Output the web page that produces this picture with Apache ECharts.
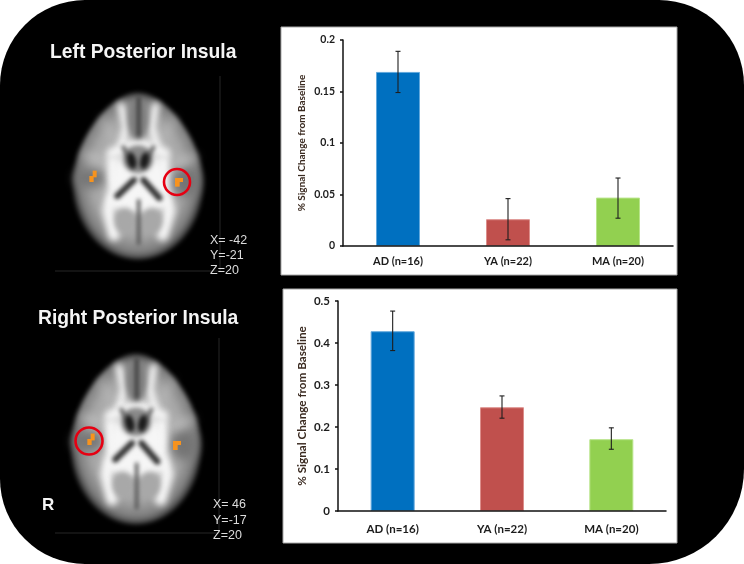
<!DOCTYPE html>
<html>
<head>
<meta charset="utf-8">
<style>
  html, body { margin: 0; padding: 0; background: #fff; }
  #main { width: 744px; height: 564px; }
</style>
<script src="https://cdn.jsdelivr.net/npm/echarts@6/dist/echarts.min.js"></script>
</head>
<body>
<div id="main"></div>
<script>
const categories = ['AD (n=16)', 'YA (n=22)', 'MA (n=20)'];
const barColors = ['#0070c0', '#c0504d', '#92d050'];
const barBorders = ['#62a8dc', '#dc8e8b', '#b8e48a'];

const leftValues = [0.169, 0.026, 0.047];
const leftLow = [0.149, 0.006, 0.027];
const leftHigh = [0.189, 0.046, 0.066];
const leftTicks = { min: 0, max: 0.2, interval: 0.05 };

const rightValues = [0.428, 0.247, 0.171];
const rightLow = [0.382, 0.221, 0.147];
const rightHigh = [0.476, 0.274, 0.198];
const rightTicks = { min: 0, max: 0.5, interval: 0.1 };

const chart = echarts.init(document.getElementById('main'), null, { renderer: 'canvas' });

// the brain slice is a picture in the original, so paint it once and reuse it
function paintBrain() {
  const c = document.createElement('canvas');
  c.width = 300;
  c.height = 360;
  const g = c.getContext('2d');
  g.setTransform(2 / 3, 0, 0, 2 / 3, 150 - 294 * 2 / 3, 180 - 318 * 2 / 3);

  function oval(x, y, rx, ry, col, rot) {
    g.fillStyle = col;
    g.beginPath();
    g.ellipse(x, y, rx, ry, rot || 0, 0, Math.PI * 2);
    g.fill();
  }
  function stroke(pts, w, col) {
    g.strokeStyle = col;
    g.lineWidth = w;
    g.lineCap = 'round';
    g.lineJoin = 'round';
    g.beginPath();
    pts.forEach(function (p, i) { i ? g.lineTo(p[0], p[1]) : g.moveTo(p[0], p[1]); });
    g.stroke();
  }

  // egg outline, narrower at the frontal end, dark rim all round
  g.filter = 'blur(5px)';
  g.beginPath();
  g.moveTo(294, 68);
  g.bezierCurveTo(205, 68, 98, 225, 98, 335);
  g.bezierCurveTo(98, 470, 190, 568, 294, 568);
  g.bezierCurveTo(398, 568, 490, 470, 490, 335);
  g.bezierCurveTo(490, 225, 383, 68, 294, 68);
  g.save();
  g.translate(294, 318);
  g.scale(0.78, 1);
  const rad = g.createRadialGradient(0, 0, 60, 0, 0, 255);
  rad.addColorStop(0, '#c4c4c4');
  rad.addColorStop(0.62, '#a6a6a6');
  rad.addColorStop(0.86, '#7e7e7e');
  rad.addColorStop(1, '#343434');
  g.fillStyle = rad;
  g.fill();
  g.restore();

  // insular grey
  g.filter = 'blur(10px)';
  oval(150, 325, 48, 30, '#767676');
  oval(438, 335, 40, 46, '#747474');
  stroke([[135, 255], [190, 272]], 14, '#c8c8c8');
  stroke([[462, 262], [405, 282]], 14, '#c8c8c8');
  stroke([[190, 150], [225, 215]], 12, '#bdbdbd');
  stroke([[400, 150], [365, 215]], 12, '#bdbdbd');

  // white matter
  g.filter = 'blur(7px)';
  const white = '#f6f6f6';
  stroke([[243, 108], [258, 170], [245, 225]], 22, white);
  stroke([[347, 108], [335, 170], [350, 225]], 22, white);
  stroke([[215, 250], [295, 218], [375, 250]], 32, white);
  stroke([[218, 275], [224, 350], [205, 420], [222, 495]], 36, white);
  stroke([[370, 275], [366, 350], [388, 420], [368, 495]], 36, white);
  oval(295, 325, 80, 88, white);
  oval(295, 395, 92, 34, white);

  // frontal fissure and posterior lobes
  g.filter = 'blur(6px)';
  oval(294, 150, 32, 60, '#808080');
  oval(255, 452, 32, 38, '#a8a8a8');
  oval(335, 452, 32, 38, '#a8a8a8');
  g.filter = 'blur(4px)';
  stroke([[296, 85], [296, 195]], 11, '#3a3a3a');
  stroke([[296, 392], [296, 520]], 10, '#505050');

  // ventricles
  g.filter = 'blur(5px)';
  oval(294, 268, 46, 42, '#8a8a8a');
  g.filter = 'blur(4px)';
  stroke([[250, 232], [283, 285]], 13, '#6a6a6a');
  stroke([[340, 232], [307, 285]], 13, '#6a6a6a');
  oval(275, 272, 13, 25, '#1a1a1a', -0.2);
  oval(314, 272, 13, 25, '#1a1a1a', 0.2);
  stroke([[282, 330], [232, 378]], 19, '#333');
  stroke([[310, 330], [358, 384]], 19, '#333');

  // active clusters
  g.filter = 'blur(0.6px)';
  g.fillStyle = '#f7931e';
  g.fillRect(148, 318, 13, 18);
  g.fillRect(158, 302, 12, 20);
  g.fillRect(405, 324, 24, 12);
  g.fillRect(405, 335, 14, 15);
  return c;
}

const brain = paintBrain();

function brainImage(x, y, w, h) {
  return { type: 'image', z: 1, style: { image: brain, x: x, y: y, width: w, height: h } };
}
function ring(x, y, r) {
  return { type: 'circle', z: 2, shape: { cx: x, cy: y, r: r }, style: { fill: 'none', stroke: '#e60012', lineWidth: 2.6 } };
}
function faint(x1, y1, x2, y2) {
  return { type: 'line', z: 1, shape: { x1: x1, y1: y1, x2: x2, y2: y2 }, style: { stroke: '#262626', lineWidth: 1 } };
}
function heading(str, x, y) {
  return { type: 'text', z: 3, style: { text: str, x: x, y: y, fill: '#f5f5f5', textVerticalAlign: 'middle', font: 'bold 19.3px "Liberation Sans"' } };
}
function small(str, x, y) {
  return { type: 'text', z: 3, style: { text: str, x: x, y: y, fill: '#dcdcdc', textVerticalAlign: 'middle', font: '12.5px "Liberation Sans"' } };
}
function panel(x, y, w, h) {
  return { type: 'rect', z: 1, shape: { x: x, y: y, width: w, height: h }, style: { fill: '#fff', stroke: '#a8a8a8', lineWidth: 1 } };
}

// whiskers with caps, one custom series per chart
function errorBars(gridIndex, low, high) {
  return {
    type: 'custom',
    xAxisIndex: gridIndex,
    yAxisIndex: gridIndex,
    z: 5,
    clip: false,
    data: categories.map(function (c, i) { return [i, low[i], high[i]]; }),
    encode: { x: 0, y: [1, 2] },
    renderItem: function (params, api) {
      const lo = api.coord([api.value(0), api.value(1)]);
      const hi = api.coord([api.value(0), api.value(2)]);
      const cap = 2.5;
      const line = function (x1, y1, x2, y2) {
        return { type: 'line', shape: { x1: x1, y1: y1, x2: x2, y2: y2 }, style: { stroke: '#1e1e1e', lineWidth: 1.1 } };
      };
      return {
        type: 'group',
        children: [
          line(lo[0], lo[1], hi[0], hi[1]),
          line(lo[0] - cap, lo[1], lo[0] + cap, lo[1]),
          line(hi[0] - cap, hi[1], hi[0] + cap, hi[1])
        ]
      };
    }
  };
}

function bars(gridIndex, values) {
  return {
    type: 'bar',
    xAxisIndex: gridIndex,
    yAxisIndex: gridIndex,
    barWidth: 44,
    z: 2,
    data: values.map(function (v, i) {
      return { value: v, itemStyle: { color: barColors[i], borderColor: barBorders[i], borderWidth: 1 } };
    })
  };
}

function xAxis(gridIndex, fontSize, margin) {
  return {
    type: 'category',
    gridIndex: gridIndex,
    z: 3,
    data: categories,
    axisLine: { lineStyle: { color: '#111', width: 1.5 } },
    axisTick: { length: 3, lineStyle: { color: '#111', width: 1.5 } },
    axisLabel: { color: '#1c1c1c', fontFamily: 'Lato', fontWeight: 'bold', fontSize: fontSize, margin: margin }
  };
}

function yAxis(gridIndex, ticks, gap, fontSize, nameSize) {
  return {
    type: 'value',
    gridIndex: gridIndex,
    z: 3,
    min: ticks.min,
    max: ticks.max,
    interval: ticks.interval,
    name: '% Signal Change from Baseline',
    nameLocation: 'middle',
    nameGap: gap,
    nameTextStyle: { color: '#3a2a20', fontFamily: 'Lato', fontWeight: 'bold', fontSize: nameSize },
    splitLine: { show: false },
    axisLine: { show: true, lineStyle: { color: '#111', width: 1.5 } },
    axisTick: { show: true, length: 3, lineStyle: { color: '#111', width: 1.5 } },
    axisLabel: { color: '#1c1c1c', fontFamily: 'Lato', fontWeight: 'bold', fontSize: fontSize, margin: 8 }
  };
}

const option = {
  animation: false,
  backgroundColor: '#fff',
  graphic: {
    elements: [
      { type: 'rect', z: 0, shape: { x: 0, y: 0, width: 744, height: 564, r: [85, 85, 95, 85] }, style: { fill: '#000' } },
      panel(281, 27, 396, 248),
      panel(283, 289, 394, 254),
      brainImage(63, 86, 150, 180),
      brainImage(61, 347, 150, 184),
      faint(220, 76, 220, 271),
      faint(55, 271, 220, 271),
      faint(219, 338, 219, 533),
      faint(55, 533, 219, 533),
      ring(177, 182, 13),
      ring(89, 441, 13.5),
      heading('Left Posterior Insula', 50, 53),
      heading('Right Posterior Insula', 38, 319),
      small('X= -42', 210, 241),
      small('Y=-21', 210, 256),
      small('Z=20', 210, 271),
      small('X= 46', 213, 505),
      small('Y=-17', 213, 521),
      small('Z=20', 213, 536),
      { type: 'text', z: 3, style: { text: 'R', x: 42, y: 505, fill: '#f5f5f5', textVerticalAlign: 'middle', font: 'bold 17px "Liberation Sans"' } }
    ]
  },
  grid: [
    { left: 343, top: 40, width: 330, height: 206 },
    { left: 338, top: 301, width: 328, height: 210 }
  ],
  xAxis: [xAxis(0, 11, 10), xAxis(1, 11.5, 12)],
  yAxis: [yAxis(0, leftTicks, 36, 10.5, 10), yAxis(1, rightTicks, 30, 11.5, 11.7)],
  series: [
    bars(0, leftValues),
    errorBars(0, leftLow, leftHigh),
    bars(1, rightValues),
    errorBars(1, rightLow, rightHigh)
  ]
};

option && chart.setOption(option);
</script>
</body>
</html>
